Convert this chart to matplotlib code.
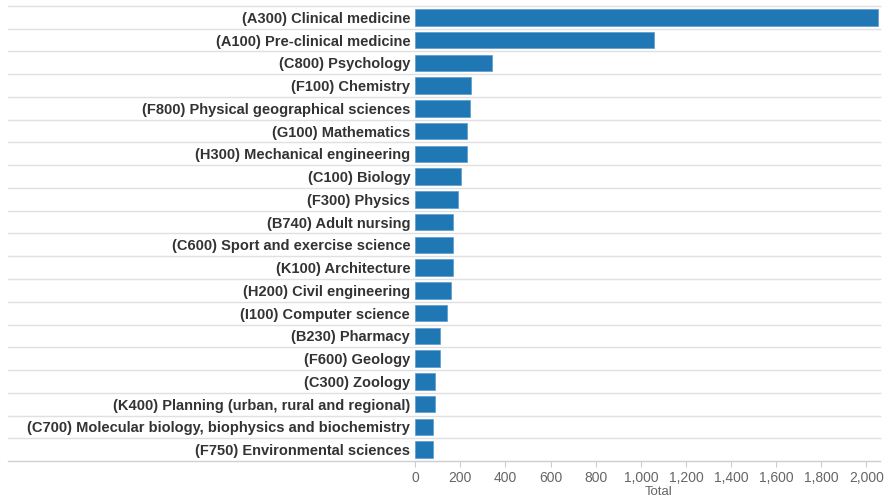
import matplotlib.pyplot as plt
import matplotlib.transforms as mtransforms

# subjects, top to bottom
subjects = [
    "(A300) Clinical medicine",
    "(A100) Pre-clinical medicine",
    "(C800) Psychology",
    "(F100) Chemistry",
    "(F800) Physical geographical sciences",
    "(G100) Mathematics",
    "(H300) Mechanical engineering",
    "(C100) Biology",
    "(F300) Physics",
    "(B740) Adult nursing",
    "(C600) Sport and exercise science",
    "(K100) Architecture",
    "(H200) Civil engineering",
    "(I100) Computer science",
    "(B230) Pharmacy",
    "(F600) Geology",
    "(C300) Zoology",
    "(K400) Planning (urban, rural and regional)",
    "(C700) Molecular biology, biophysics and biochemistry",
    "(F750) Environmental sciences",
]
totals = [2051, 1060, 340, 248, 244, 230, 230, 204, 191, 168,
          168, 168, 157, 139, 112, 112, 90, 87, 77, 77]
tick_values = [0, 200, 400, 600, 800, 1000, 1200, 1400, 1600, 1800, 2000]

plt.rcParams['font.family'] = ['Liberation Sans', 'DejaVu Sans']

fig = plt.figure(figsize=(8.88, 4.97), dpi=100)
ax = fig.add_axes([0.465, 0.0724, 0.526, 0.9156])

n = len(subjects)
ypos = list(range(n))
ax.barh(ypos, totals, height=0.72, color='#1f77b4', edgecolor='#5b9bd0', linewidth=0.5, zorder=3)
ax.set_ylim(n - 0.5, -0.5)
ax.set_xlim(-10, 2060)

ax.set_yticks(ypos)
ax.set_yticklabels(subjects, fontsize=10.5, fontweight='bold', color='#333333')
ax.tick_params(axis='y', length=0, pad=2)

ax.set_xticks(tick_values)
ax.set_xticklabels([f"{v:,}" for v in tick_values], fontsize=10, color='#666666')
ax.tick_params(axis='x', length=4, color='#cccccc', pad=3)
ax.set_xlabel('Total', fontsize=9.5, color='#666666')
ax.xaxis.set_label_coords(0.525, -0.055)

for s in ['top', 'right', 'left']:
    ax.spines[s].set_visible(False)
ax.spines['bottom'].set_color('#d0d0d0')

# row separator lines across the label area too
trans = mtransforms.blended_transform_factory(ax.transAxes, ax.transData)
x0 = (8 - 413) / (880 - 413)
for b in range(n):
    ax.plot([x0, 1], [b - 0.5, b - 0.5], transform=trans, color='#e0e0e0',
            linewidth=1, clip_on=False, zorder=1)
ax.plot([x0, 1], [n - 0.5, n - 0.5], transform=trans, color='#d0d0d0',
        linewidth=1, clip_on=False, zorder=1)

fig.savefig('out.png', dpi=100)
